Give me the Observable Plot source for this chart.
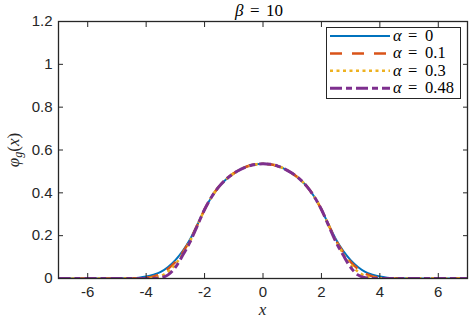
<!DOCTYPE html>
<html><head><meta charset="utf-8">
<script src="https://cdn.jsdelivr.net/npm/d3@7"></script>
<script src="https://cdn.jsdelivr.net/npm/@observablehq/plot@0.6"></script>
<style>body{margin:0;background:#fff} svg{display:block}</style>
</head><body><div id="chart"></div>
<script>
const xs = [-7,-6.5,-6,-5.5,-5,-4.75,-4.5,-4.25,-4,-3.75,-3.5,-3.25,-3,-2.75,-2.5,-2.25,-2,-1.75,-1.5,-1.25,-1,-0.75,-0.5,-0.25,
  0,0.25,0.5,0.75,1,1.25,1.5,1.75,2,2.25,2.5,2.75,3,3.25,3.5,3.75,4,4.25,4.5,4.75,5,5.5,6,6.5,7];
const phiAlpha0 = [0,0,0,0,0.0003,0.001,0.002,0.004,0.009,0.018,0.031,0.054,0.086,0.128,0.182,0.25,0.322,0.383,0.43,0.465,0.491,0.511,0.525,0.533,
  0.536,0.533,0.525,0.511,0.491,0.465,0.43,0.383,0.322,0.25,0.182,0.128,0.086,0.054,0.031,0.018,0.009,0.004,0.002,0.001,0.0003,0,0,0,0];
const phiAlpha01 = [0,0,0,0,0,0,0.0005,0.0015,0.004,0.01,0.023,0.045,0.077,0.122,0.178,0.249,0.322,0.383,0.43,0.465,0.491,0.511,0.525,0.533,
  0.536,0.533,0.525,0.511,0.491,0.465,0.43,0.383,0.322,0.249,0.178,0.122,0.077,0.045,0.023,0.01,0.004,0.0015,0.0005,0,0,0,0,0,0];
const phiAlpha03 = [0,0,0,0,0,0,0,0,0.001,0.004,0.012,0.032,0.066,0.115,0.174,0.248,0.322,0.383,0.43,0.465,0.491,0.511,0.525,0.533,
  0.536,0.533,0.525,0.511,0.491,0.465,0.43,0.383,0.322,0.248,0.174,0.115,0.066,0.032,0.012,0.004,0.001,0,0,0,0,0,0,0,0];
const phiAlpha048 = [0,0,0,0,0,0,0,0,0,0.0005,0.004,0.017,0.052,0.108,0.17,0.246,0.322,0.383,0.43,0.465,0.491,0.511,0.525,0.533,
  0.536,0.533,0.525,0.511,0.491,0.465,0.43,0.383,0.322,0.246,0.17,0.108,0.052,0.017,0.004,0.0005,0,0,0,0,0,0,0,0,0];
const alphaLabels = ["0","0.1","0.3","0.48"];
const xTicks = [-6,-4,-2,0,2,4,6];
const yTicks = [0,0.2,0.4,0.6,0.8,1,1.2];

const series = [phiAlpha0, phiAlpha01, phiAlpha03, phiAlpha048];
const colors = ["#0072BD","#D95319","#EDB120","#7E2F8E"];
const dashes = [undefined,"12,10","3,3.5","12,4,6,4"];
const widths = [2,2.5,2.5,3];
const axisColor = "#262626";

const lineMarks = series.map((ys,k)=> Plot.line(ys.map((y,i)=>({x:xs[i], y})), {
  x:"x", y:"y", stroke: colors[k], strokeWidth: widths[k],
  strokeDasharray: dashes[k], curve: "monotone-x", strokeLinecap: "butt", clip: true
}));

const plot = Plot.plot({
  width: 471, height: 318,
  marginLeft: 58, marginRight: 4, marginTop: 21, marginBottom: 40,
  x: {domain: [-7,7]}, y: {domain: [0,1.2]},
  style: {fontFamily: "'Liberation Sans', Arial, sans-serif", fontSize: "15px", color: axisColor, background: "white"},
  marks: [
    ...lineMarks,
    Plot.frame({stroke: axisColor, strokeWidth: 1.3}),
    Plot.axisX(xTicks, {anchor:"bottom", tickSize:-5, tickPadding:13, label:null, tickFormat: d=>String(d), stroke: axisColor}),
    Plot.axisX(xTicks, {anchor:"top", tickSize:-5, label:null, tickFormat: ()=>"", stroke: axisColor}),
    Plot.axisY(yTicks, {anchor:"left", tickSize:-5, tickPadding:11, label:null, tickFormat: d=>String(d), stroke: axisColor}),
    Plot.axisY(yTicks, {anchor:"right", tickSize:-5, label:null, tickFormat: ()=>"", stroke: axisColor})
  ]
});
document.getElementById("chart").appendChild(plot);

const svg = d3.select(plot);
const serif = "'Liberation Serif', 'DejaVu Serif', serif";
// title
const t = svg.append("text").attr("y", 16).attr("text-anchor","start")
  .attr("font-family", serif).attr("font-size", 17).attr("fill", "#000");
t.append("tspan").attr("x", 235).attr("font-style","italic").text("β");
t.append("tspan").attr("x", 250).text("=");
t.append("tspan").attr("x", 266).text("10");
// x label
svg.append("text").attr("x", 262.5).attr("y", 315).attr("text-anchor","middle")
  .attr("font-family", serif).attr("font-size", 17).attr("font-style","italic").attr("fill", axisColor).text("x");
// y label
const yl = svg.append("text").attr("transform","translate(19,150) rotate(-90)").attr("text-anchor","middle")
  .attr("font-family", serif).attr("font-size", 17).attr("fill", axisColor);
yl.append("tspan").attr("font-style","italic").text("φ");
yl.append("tspan").attr("font-style","italic").attr("font-size", 12).attr("dy", 3).text("g");
yl.append("tspan").attr("dy", -3).text("(");
yl.append("tspan").attr("font-style","italic").text("x");
yl.append("tspan").text(")");
// legend
const lg = svg.append("g");
lg.append("rect").attr("x", 326.5).attr("y", 27.5).attr("width", 134).attr("height", 71)
  .attr("fill","white").attr("stroke", axisColor).attr("stroke-width", 1);
alphaLabels.forEach((lab,k)=>{
  const yy = 36 + k*17.4;
  lg.append("line").attr("x1", 330).attr("x2", 390).attr("y1", yy).attr("y2", yy)
    .attr("stroke", colors[k]).attr("stroke-width", widths[k]).attr("stroke-dasharray", dashes[k] || null);
  const tx = lg.append("text").attr("y", yy + 5).attr("text-anchor","start").attr("font-family", serif)
    .attr("font-size", 16.5).attr("fill", "#000");
  tx.append("tspan").attr("x", 393).attr("font-style","italic").text("α");
  tx.append("tspan").attr("x", 408).text("=");
  tx.append("tspan").attr("x", 425).text(lab);
});
</script>
</body></html>
